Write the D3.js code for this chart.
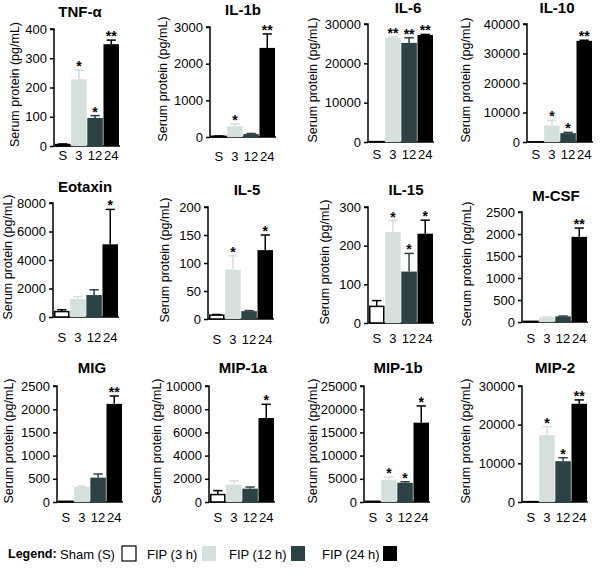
<!DOCTYPE html>
<html><head><meta charset="utf-8">
<script src="https://cdn.jsdelivr.net/npm/d3@7"></script>
<style>body{margin:0;background:#fff}svg{display:block}text{font-family:"Liberation Sans",Arial,sans-serif}</style>
</head><body><svg id="c" width="600" height="573"></svg>
<script>
// ---- data ----
const cytokines = ["TNF-α","IL-1b","IL-6","IL-10","Eotaxin","IL-5","IL-15","M-CSF","MIG","MIP-1a","MIP-1b","MIP-2"];
const groups = ["S","3","12","24"];
const legendLabels = ["Sham (S)","FIP (3 h)","FIP (12 h)","FIP (24 h)"];
const yMax = [400,3000,30000,40000,8000,200,300,2500,2500,10000,25000,30000];
const tickStep = [100,1000,10000,10000,2000,50,100,500,500,2000,5000,10000];
const means = [
  [5,228,96,348],
  [20,290,80,2430],
  [100,26500,25200,27200],
  [50,5600,3000,34300],
  [380,1260,1540,5100],
  [7,88,14,123],
  [43,235,133,231],
  [15,105,128,1935],
  [15,323,525,2115],
  [640,1500,1150,7240],
  [150,4810,4150,17100],
  [100,17300,10550,25400]
];
const errors = [
  [2,32,8,14],
  [8,70,15,380],
  [0,200,1300,150],
  [0,1700,250,200],
  [130,160,370,2450],
  [1,25,1,27],
  [15,30,47,35],
  [0,15,8,200],
  [0,22,78,170],
  [340,320,140,1180],
  [0,580,220,3600],
  [0,2200,900,1000]
];
const stars = [
  ["","*","*","**"],["","*","",  "**"],["","**","**","**"],["","*","*","**"],
  ["","","","*"],["","*","","*"],["","*","*","*"],["","","","**"],
  ["","","","**"],["","","","*"],["","*","*","*"],["","*","*","**"]
];

// ---- layout ----
const axisX  = [54,210,368,527, 53,208,368,522, 57,209,364,522];
const topY   = [29,27,24,24, 203,207,207,212, 386,386,386,386];
const baseY  = [146,137,142,142, 317,319,323,322, 502,502,502,502];
const xLabY  = [155,156,154,154, 337,339,338,338, 517,517,517,517];
const titleX = [80,243,408,557, 85,247,406,556, 92,243,398,555];
const titleY = [12,10,8,8, 187,190,190,196, 368,368,368,368];
const yLabX  = [15,163,313,466, 8,165,325,467, 9,157,313,466];
const colors = ["#ffffff","#d5dfdc","#2c4244","#000000"];
const errColors = ["#000000","#d5dfdc","#2c4244","#000000"];

const svg = d3.select("#c");

cytokines.forEach((name,i)=>{
  const g = svg.append("g");
  const x0 = axisX[i];
  const y = d3.scaleLinear().domain([0,yMax[i]]).range([baseY[i],topY[i]]);
  const x = d3.scaleBand().domain(groups).range([x0+1,x0+65]).paddingInner(0.04).paddingOuter(0.0);
  const ax = d3.axisLeft(y).tickValues(d3.range(0,yMax[i]+1e-9,tickStep[i])).tickSize(4).tickPadding(3).tickFormat(d3.format("d"));
  const ag = g.append("g").attr("transform",`translate(${x0},0)`).call(ax);
  ag.select(".domain").attr("stroke","#000").attr("stroke-width",1.5).attr("d",`M-4,${y(yMax[i])}H0V${baseY[i]}`);
  ag.selectAll(".tick line").attr("stroke","#000").attr("stroke-width",1.5);
  ag.selectAll(".tick text").attr("font-size",13).attr("fill","#000").attr("font-family","Liberation Sans, Arial, sans-serif");
  g.append("line").attr("x1",x0).attr("x2",x0+66).attr("y1",baseY[i]).attr("y2",baseY[i]).attr("stroke","#000").attr("stroke-width",1.5);
  groups.forEach((grp,j)=>{
    const m = means[i][j], e = errors[i][j];
    const bx = x(grp), bw = x.bandwidth(), cx = bx+bw/2;
    const ec = errColors[j];
    if(e>0){
      g.append("line").attr("x1",cx).attr("x2",cx).attr("y1",y(m)).attr("y2",y(m+e)).attr("stroke",ec).attr("stroke-width",1.5);
      g.append("line").attr("x1",cx-bw*0.3).attr("x2",cx+bw*0.3).attr("y1",y(m+e)).attr("y2",y(m+e)).attr("stroke",ec).attr("stroke-width",1.5);
    }
    if(j===0){
      g.append("rect").attr("x",bx+0.75).attr("y",y(m)).attr("width",bw-1.5).attr("height",Math.max(0,baseY[i]-y(m)))
        .attr("fill","#fff").attr("stroke","#000").attr("stroke-width",1.5);
    } else {
      g.append("rect").attr("x",bx).attr("y",y(m)).attr("width",bw).attr("height",baseY[i]-y(m)).attr("fill",colors[j]);
    }
    if(stars[i][j]){
      g.append("text").attr("x",cx).attr("y",y(m+e)+1).attr("text-anchor","middle")
        .attr("font-size",14).attr("font-weight","bold").text(stars[i][j]);
    }
    g.append("text").attr("x",cx).attr("y",xLabY[i]).attr("dy","0.35em").attr("text-anchor","middle")
      .attr("font-size",13).text(grp);
  });
  g.append("text").attr("x",titleX[i]).attr("y",titleY[i]).attr("dy","0.35em").attr("text-anchor","middle")
    .attr("font-size",15).attr("font-weight","bold").text(name);
  const cy = (topY[i]+baseY[i])/2 - 3;
  g.append("text").attr("transform",`translate(${yLabX[i]},${cy}) rotate(-90)`).attr("dy","0.35em")
    .attr("text-anchor","middle").attr("font-size",12.5).text("Serum protein (pg/mL)");
});

// legend
const lg = svg.append("g");
lg.append("text").attr("x",8).attr("y",554).attr("dy","0.35em").attr("font-size",12.5).attr("font-weight","bold").text("Legend:");
const legTextX = [60,147,229,322];
const legBoxX = [122,202,291,383];
legendLabels.forEach((l,j)=>{
  lg.append("text").attr("x",legTextX[j]).attr("y",554).attr("dy","0.35em").attr("font-size",13).text(l);
  lg.append("rect").attr("x",legBoxX[j]).attr("y",546).attr("width",14).attr("height",15)
    .attr("fill",colors[j]).attr("stroke",j===0?"#000":"none").attr("stroke-width",1.2);
});
</script></body></html>
